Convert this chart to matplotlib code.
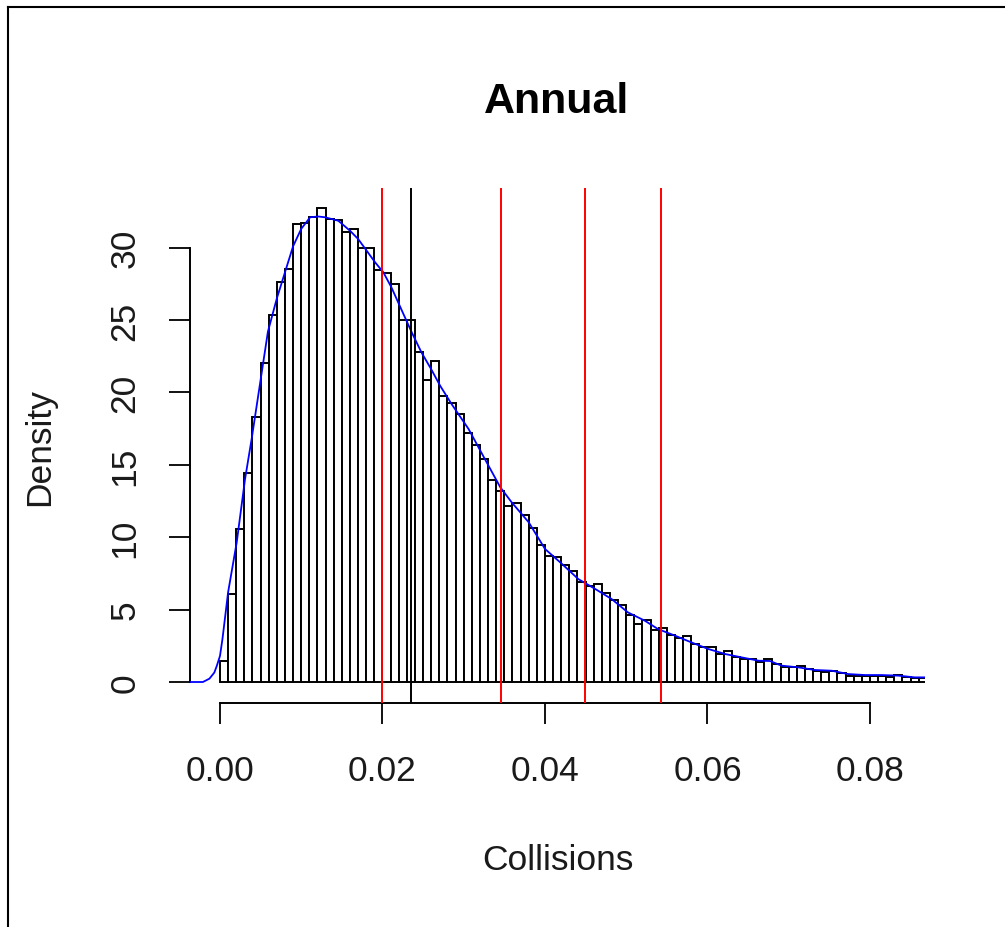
import matplotlib
matplotlib.use("Agg")
import matplotlib.pyplot as plt
from matplotlib.lines import Line2D

plt.rcParams['font.family'] = ['Liberation Sans', 'DejaVu Sans']

# ---- data ----
bin_start = 0.0
bin_width = 0.001
densities = [1.42, 6.1, 10.6, 14.45, 18.27, 22.0, 25.36, 27.6, 28.5, 31.63,
             31.7, 32.1, 32.75, 31.95, 31.9, 31.1, 31.3, 30.0, 30.0, 28.45,
             28.25, 27.46, 25.02, 25.02, 22.81, 20.86, 22.15, 19.77, 19.27, 18.49,
             17.2, 16.39, 15.4, 13.97, 13.17, 12.18, 12.36, 11.55, 10.61, 9.46,
             8.68, 8.6, 8.1, 7.69, 6.93, 6.61, 6.77, 6.15, 5.69, 5.32,
             4.65, 4.0, 4.3, 3.6, 3.71, 3.25, 3.02, 3.2, 2.62, 2.39,
             2.39, 1.93, 2.16, 1.70, 1.59, 1.59, 1.40, 1.62, 1.24, 1.06,
             1.04, 1.14, 0.93, 0.74, 0.72, 0.77, 0.62, 0.42, 0.41, 0.41,
             0.41, 0.41, 0.33, 0.5, 0.33, 0.31, 0.31]

kde_x = [-0.0037, -0.0021, -0.0013, -0.0007, -0.0004, 0.0, 0.0003, 0.001, 0.00206,
         0.00308, 0.0039, 0.0049, 0.0059, 0.007, 0.008, 0.009, 0.010, 0.0111,
         0.0121, 0.0129, 0.01456, 0.016, 0.017, 0.0191, 0.0201, 0.0211, 0.0223,
         0.0236, 0.0248, 0.026, 0.0271, 0.0285, 0.0306, 0.0326, 0.0345, 0.0359,
         0.038, 0.040, 0.0421, 0.0441, 0.0462, 0.0482, 0.0502, 0.0523, 0.0539,
         0.056, 0.058, 0.0601, 0.0622, 0.0642, 0.0663, 0.0677, 0.0691, 0.0712,
         0.0732, 0.0753, 0.0773, 0.0794, 0.0814, 0.0835, 0.0855, 0.0868]
kde_y = [0.0, 0.0, 0.23, 0.65, 1.1, 1.8, 2.95, 6.2, 9.65,
         14.0, 16.8, 20.5, 24.2, 26.5, 28.3, 30.1, 31.3, 32.1,
         32.15, 32.1, 31.86, 31.17, 30.6, 28.98, 28.3, 27.26, 25.76,
         24.15, 22.76, 21.6, 20.46, 19.2, 17.47, 15.4, 13.45, 12.41,
         11.03, 9.19, 8.15, 7.11, 6.42, 5.73, 4.81, 4.23, 3.66,
         3.2, 2.74, 2.28, 1.93, 1.7, 1.47, 1.45, 1.13, 1.01,
         0.83, 0.78, 0.55, 0.48, 0.48, 0.44, 0.32, 0.32]

mean_value = 0.0235
quantile_values = [0.0200, 0.0346, 0.0449, 0.0543]

x_ticks = [0.00, 0.02, 0.04, 0.06, 0.08]
x_ticklabels = ["0.00", "0.02", "0.04", "0.06", "0.08"]
y_ticks = [0, 5, 10, 15, 20, 25, 30]
y_ticklabels = ["0", "5", "10", "15", "20", "25", "30"]

title = "Annual"
xlabel = "Collisions"
ylabel = "Density"

# ---- figure ----
W, H = 1005, 928
fig = plt.figure(figsize=(W / 100, H / 100), dpi=100)
L, R, B, T = 190, 925, 704, 189
ax = fig.add_axes([L / W, 1 - B / H, (R - L) / W, (B - T) / H])
ax.set_xlim(-0.00369, 0.08677)
ax.set_ylim(-1.45, 34.12)

lefts = [bin_start + i * bin_width for i in range(len(densities))]
ax.bar(lefts, densities, width=bin_width, align='edge', facecolor='white',
       edgecolor='black', linewidth=1.4, zorder=2)

ax.plot(kde_x, kde_y, color='blue', linewidth=1.3, zorder=3)

ax.axvline(mean_value, color='black', linewidth=1.4, zorder=4)
for q in quantile_values:
    ax.axvline(q, color='red', linewidth=1.4, zorder=4)

for s in ['top', 'right']:
    ax.spines[s].set_visible(False)
ax.spines['bottom'].set_bounds(0, 0.08)
ax.spines['left'].set_bounds(0, 30)
for s in ['bottom', 'left']:
    ax.spines[s].set_linewidth(1.4)

ax.set_xticks(x_ticks)
ax.set_xticklabels(x_ticklabels, fontsize=25.5, color='#1a1a1a')
ax.set_yticks(y_ticks)
ax.set_yticklabels(y_ticklabels, fontsize=25.5, rotation=90, va='center', color='#1a1a1a')
ax.tick_params(axis='both', direction='out', length=15, width=1.4, color='#111111')
ax.tick_params(axis='x', pad=22)
ax.tick_params(axis='y', pad=20)

fig.text(557 / W, 1 - 102 / H, title, fontsize=31, fontweight='bold',
         ha='center', va='center')
fig.text(558 / W, 1 - 861 / H, xlabel, fontsize=25.5, ha='center', va='center',
         color='#1a1a1a')
fig.text(40 / W, 1 - 447 / H, ylabel, fontsize=25.5, ha='center', va='center',
         rotation=90, color='#1a1a1a')

# outer frame lines (left and top)
fig.add_artist(Line2D([8 / W, 8 / W], [0, 1 - 8 / H], transform=fig.transFigure,
                      color='black', linewidth=1.5))
fig.add_artist(Line2D([8 / W, 1], [1 - 8 / H, 1 - 8 / H], transform=fig.transFigure,
                      color='black', linewidth=1.5))

fig.savefig("out.png", dpi=100, facecolor='white')
